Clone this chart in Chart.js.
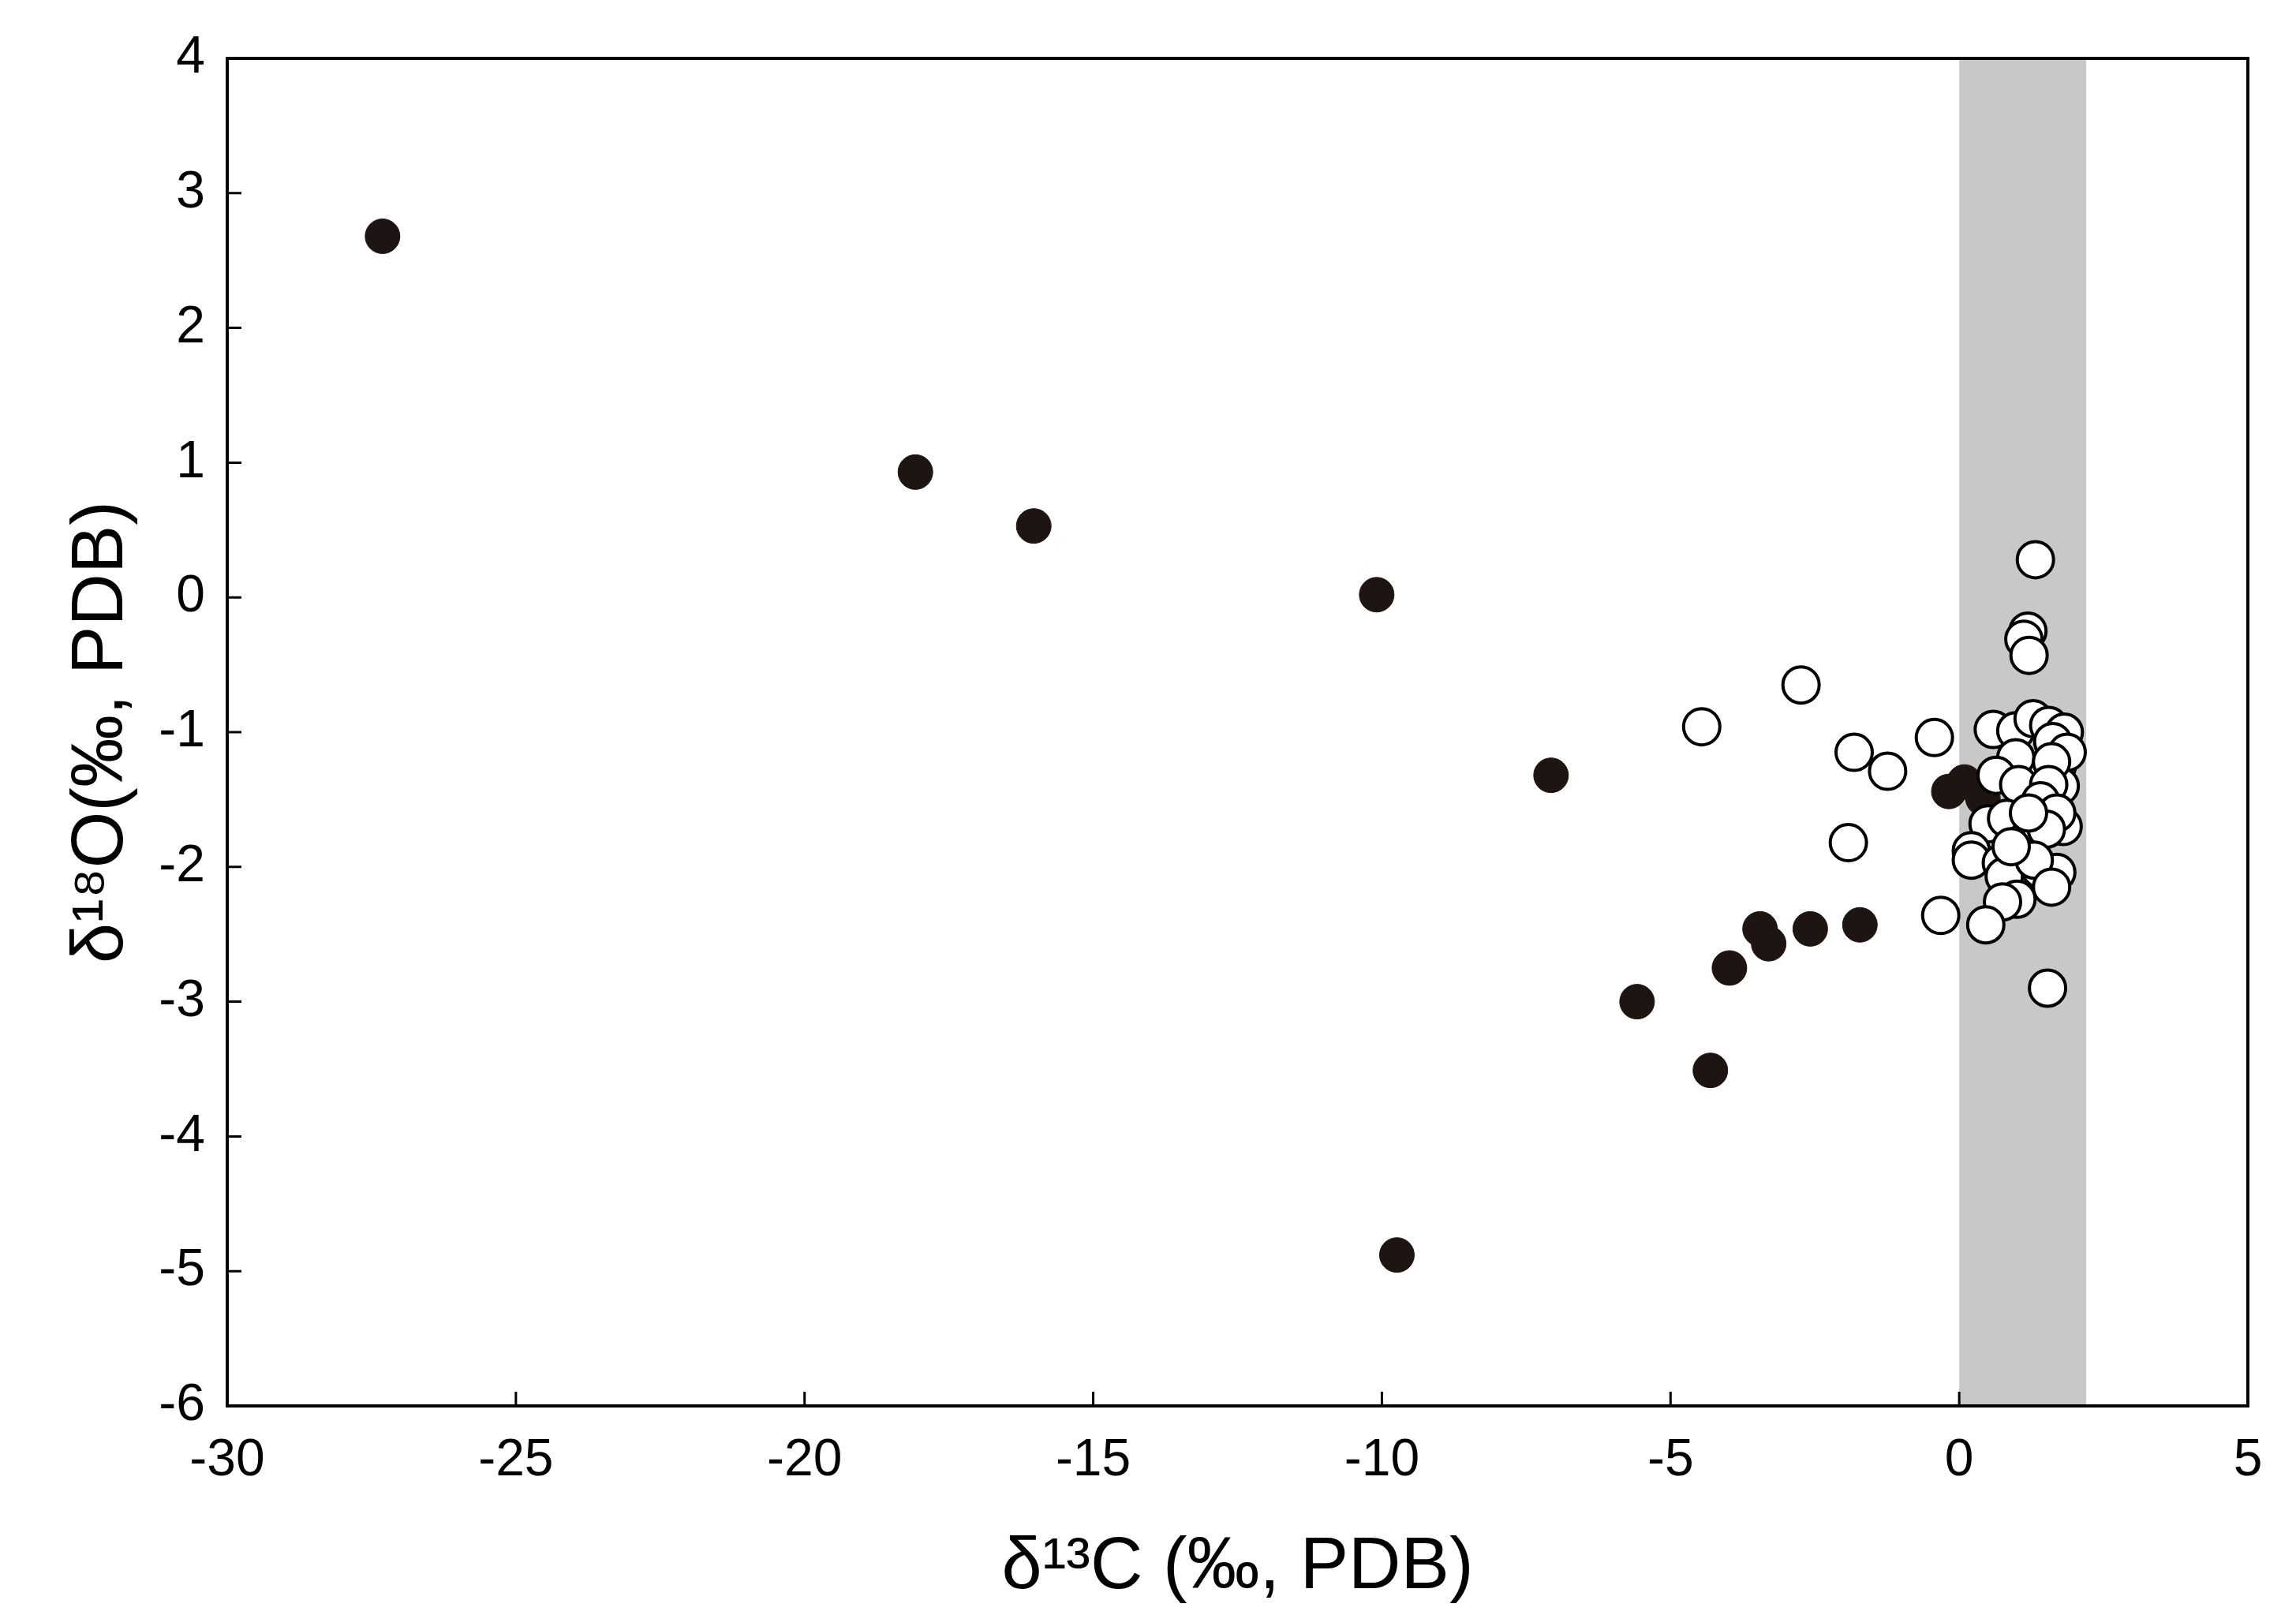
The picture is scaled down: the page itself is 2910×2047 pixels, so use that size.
<!DOCTYPE html>
<html><head><meta charset="utf-8">
<script src="https://cdn.jsdelivr.net/npm/chart.js@4/dist/chart.umd.min.js"></script>
<style>html,body{margin:0;padding:0;background:#fff}#w{width:2910px;height:2047px}</style>
</head><body><div id="w"><canvas id="c"></canvas></div>
<script>
const xTicks = [-30,-25,-20,-15,-10,-5,0,5];
const yTicks = [-6,-5,-4,-3,-2,-1,0,1,2,3,4];
const bandRange = [0, 2.2];
const filledX = [-27.31,-18.08,-16.03,-10.09,-7.07,-5.58,-4.31,-9.74,-3.98,-3.45,-3.30,-2.58,-1.72,-0.18,0.09,0.41];
const filledY = [2.68,0.93,0.53,0.02,-1.32,-3.00,-3.51,-4.88,-2.75,-2.46,-2.57,-2.46,-2.43,-1.44,-1.37,-1.49];
const openX = [-4.46,-2.74,-1.82,-1.24,-1.92,-0.43,-0.32,1.32,1.19,1.12,1.21,0.59,1.30,1.45,1.70,1.75,1.80,0.98,1.28,1.55,1.82,1.62,1.87,0.98,1.60,0.64,1.03,1.55,1.41,1.69,0.50,0.82,1.19,1.51,0.21,0.21,0.73,1.05,1.41,1.69,0.78,1.00,0.75,0.46,1.53,1.30,1.20,0.90,1.60];
const openY = [-0.96,-0.65,-1.15,-1.29,-1.82,-1.04,-2.36,0.28,-0.25,-0.31,-0.43,-0.98,-1.30,-1.45,-1.25,-1.40,-1.70,-0.99,-0.90,-0.95,-1.00,-1.07,-1.15,-1.19,-1.22,-1.32,-1.39,-1.39,-1.51,-1.60,-1.68,-1.64,-1.79,-1.72,-1.88,-1.95,-1.97,-1.92,-2.02,-2.04,-2.07,-2.24,-2.26,-2.43,-2.90,-1.95,-1.60,-1.85,-2.15];
const xTitle = 'δ¹³C (‰, PDB)';
const yTitle = 'δ¹⁸O(‰, PDB)';
const FONT = '"Liberation Sans Narrow","Liberation Sans",Arial,sans-serif';

const deco = {
  id:'deco',
  beforeDatasetsDraw(ch){
    const {ctx, chartArea:a, scales:{x}} = ch;
    const x0 = x.getPixelForValue(bandRange[0]), x1 = x.getPixelForValue(bandRange[1]);
    ctx.save(); ctx.fillStyle='#c8c8c8'; ctx.fillRect(x0,a.top,x1-x0,a.bottom-a.top); ctx.restore();
  },
  afterDatasetsDraw(ch){
    const {ctx, chartArea:a, scales:{x,y}} = ch;
    ctx.save(); ctx.strokeStyle='#000'; ctx.lineWidth=4;
    ctx.strokeRect(a.left,a.top,a.right-a.left,a.bottom-a.top);
    ctx.lineWidth=3; ctx.beginPath();
    xTicks.forEach(v=>{const p=x.getPixelForValue(v); ctx.moveTo(p,a.bottom); ctx.lineTo(p,a.bottom-18);});
    yTicks.forEach(v=>{const p=y.getPixelForValue(v); ctx.moveTo(a.left,p); ctx.lineTo(a.left+18,p);});
    ctx.stroke(); ctx.restore();
  }
};

new Chart(document.getElementById('c'), {
  type:'scatter',
  data:{datasets:[
    {data:openX.map((v,i)=>({x:v,y:openY[i]})), pointRadius:23, pointBackgroundColor:'#fff', pointBorderColor:'#000', pointBorderWidth:4},
    {data:filledX.map((v,i)=>({x:v,y:filledY[i]})), pointRadius:22, pointBackgroundColor:'#1e1512', pointBorderColor:'#1e1512', pointBorderWidth:1}
  ]},
  options:{
    responsive:true, maintainAspectRatio:false, animation:false,
    layout:{padding:{top:74,right:61,left:70,bottom:0}},
    plugins:{legend:{display:false},tooltip:{enabled:false}},
    scales:{
      x:{type:'linear',min:-30,max:5,
        afterBuildTicks(s){s.ticks=xTicks.map(v=>({value:v}));},
        afterFit(s){s.height=265;},
        grid:{display:false,drawTicks:false}, border:{display:false},
        ticks:{padding:30,color:'#000',font:{family:FONT,size:66},maxRotation:0},
        title:{display:true,text:xTitle,color:'#000',font:{family:FONT,size:92},padding:{top:0}}},
      y:{type:'linear',min:-6,max:4,
        afterBuildTicks(s){s.ticks=yTicks.map(v=>({value:v}));},
        afterFit(s){s.width=218;},
        grid:{display:false,drawTicks:false}, border:{display:false},
        ticks:{padding:28,color:'#000',font:{family:FONT,size:66}},
        title:{display:true,text:yTitle,color:'#000',font:{family:FONT,size:92},padding:{bottom:0}}}
    }
  },
  plugins:[deco]
});
</script></body></html>
